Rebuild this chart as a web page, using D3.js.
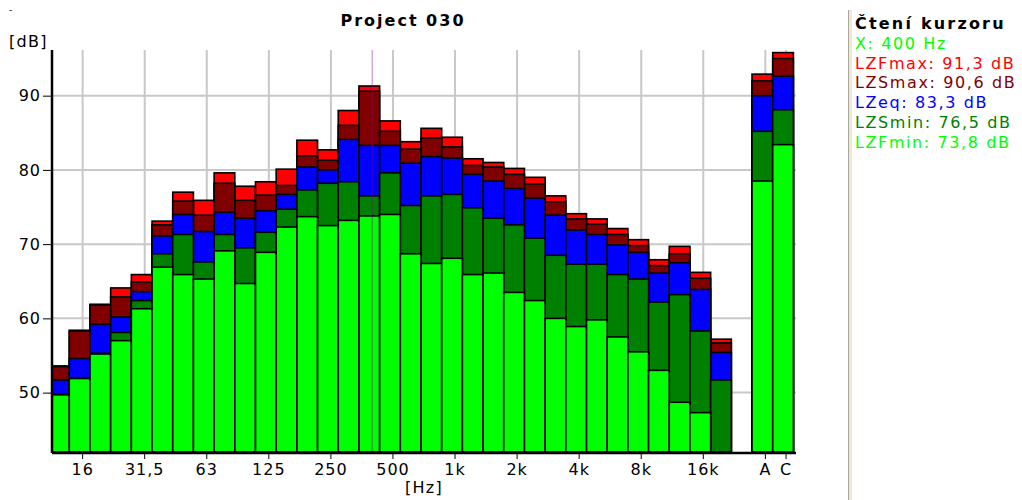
<!DOCTYPE html>
<html>
<head>
<meta charset="utf-8">
<script src="https://cdn.jsdelivr.net/npm/d3@7"></script>
<style>
  body { margin: 0; background: #fff; }
  svg text { font-family: "DejaVu Sans", Verdana, sans-serif; }
</style>
</head>
<body>
<svg id="chart" width="1022" height="500"></svg>
<script>
// band labels (1/3 octave) + overall A / C
var bands = ["12,5","16","20","25","31,5","40","50","63","80","100","125","160","200","250","315","400",
  "500","630","800","1k","1,25k","1,6k","2k","2,5k","3,15k","4k","5k","6,3k","8k","10k","12,5k","16k","20k"]
var totals = ["A", "C"]
var tickLabels = ["16","31,5","63","125","250","500","1k","2k","4k","8k","16k","A","C"]
var yTicks = [50, 60, 70, 80, 90]

// values, bands then A, C
var LZFmax = [53.6,58.4,61.9,64.1,65.9,73.1,77.0,75.9,79.6,77.8,78.4,80.1,84.0,82.7,88.0,91.3,
  86.6,83.8,85.6,84.4,81.5,81.0,80.2,79.0,76.5,74.1,73.4,72.1,70.6,67.9,69.7,66.2,57.2, 92.9,95.8]
var LZSmax = [53.5,58.3,61.8,62.9,64.9,72.6,75.8,73.9,78.2,75.9,76.6,77.9,81.9,81.3,86.0,90.6,
  85.2,82.8,84.3,83.1,80.6,80.4,79.4,78.1,75.7,73.4,72.7,71.3,69.8,67.1,68.7,65.4,56.7, 92.0,95.0]
var LZeq   = [51.7,54.6,59.2,60.2,63.6,71.1,74.0,71.7,74.3,73.5,74.5,76.7,80.4,80.0,84.1,83.3,
  83.3,80.9,81.8,81.6,79.4,78.5,77.5,76.2,73.9,71.9,71.3,69.9,68.9,66.1,67.5,63.9,55.4, 90.0,92.6]
var LZSmin = [49.8,52.0,55.3,58.1,62.4,68.7,71.3,67.6,71.3,69.5,71.6,74.7,77.3,78.2,78.4,76.5,
  79.6,75.2,76.5,76.7,74.9,73.5,72.6,70.8,68.5,67.3,67.3,65.9,65.3,62.2,63.2,58.3,51.7, 85.2,88.1]
var LZFmin = [49.7,51.9,55.2,57.0,61.3,66.9,65.9,65.3,69.1,64.7,68.9,72.3,73.7,72.5,73.2,73.8,
  74.0,68.7,67.4,68.1,65.9,66.1,63.5,62.4,60.0,58.9,59.8,57.5,55.5,53.0,48.7,47.3,41.0, 78.5,83.4]

var cursorBand = "400"
var cursorLabel = "400 Hz"

var series = [
  {name: "LZFmax", values: LZFmax, color: "#ff0000"},
  {name: "LZSmax", values: LZSmax, color: "#800000"},
  {name: "LZeq",   values: LZeq,   color: "#0000ff"},
  {name: "LZSmin", values: LZSmin, color: "#008000"},
  {name: "LZFmin", values: LZFmin, color: "#00ff00"}
]

var svg = d3.select("#chart")
var pTop = 50, pBottom = 452, pLeft = 52, pRight = 796

var cats = bands.concat(["gap"], totals)
var x = d3.scaleBand().domain(cats).range([48.6, 793.4]).padding(0)
var y = d3.scaleLinear().domain([42, 96.15]).range([pBottom, pTop])
var tickX = function(c) { return x(c) + x.bandwidth() / 2 + 3 }

// clip
svg.append("defs").append("clipPath").attr("id", "plot")
  .append("rect").attr("x", pLeft).attr("y", 0).attr("width", pRight - pLeft).attr("height", pBottom)

// grid
var grid = svg.append("g").attr("stroke", "#c8c8c8").attr("stroke-width", 2)
grid.selectAll("line.h").data(yTicks).enter().append("line")
  .attr("x1", pLeft).attr("x2", pRight)
  .attr("y1", function(d) { return y(d) }).attr("y2", function(d) { return y(d) })
grid.selectAll("line.v").data(tickLabels).enter().append("line")
  .attr("y1", pTop).attr("y2", pBottom)
  .attr("x1", tickX).attr("x2", tickX)

// bars
var rows = cats.filter(function(c) { return c != "gap" })
var bars = svg.append("g").attr("clip-path", "url(#plot)")
series.forEach(function(s) {
  bars.append("g").selectAll("rect").data(rows).enter().append("rect")
    .attr("x", function(c) { return x(c) })
    .attr("width", x.bandwidth())
    .attr("y", function(c, i) { return y(Math.max(s.values[i], 42)) })
    .attr("height", function(c, i) { return pBottom - y(Math.max(s.values[i], 42)) })
    .attr("fill", s.color)
    .attr("stroke", "#000")
    .attr("stroke-width", 1.6)
})

// cursor
svg.append("line")
  .attr("x1", tickX(cursorBand)).attr("x2", tickX(cursorBand))
  .attr("y1", pTop).attr("y2", pBottom)
  .attr("stroke", "#800080").attr("stroke-opacity", 0.35).attr("stroke-width", 1.5)

// axes
var yAxis = svg.append("g").attr("transform", "translate(" + pLeft + ",0)")
  .call(d3.axisLeft(y).tickValues(yTicks).tickSize(9).tickPadding(2).tickSizeOuter(0))
yAxis.select(".domain").attr("stroke-width", 2.5).attr("d", "M0," + pTop + "V" + (pBottom + 1))
yAxis.selectAll("text").attr("font-size", 16).attr("letter-spacing", 1).attr("fill", "#000")
  .attr("font-family", "DejaVu Sans")

var xAxis = svg.append("g").attr("transform", "translate(0," + pBottom + ")")
  .call(d3.axisBottom(x).tickValues(tickLabels).tickSize(7).tickPadding(5).tickSizeOuter(0))
xAxis.select(".domain").attr("stroke-width", 2.5).attr("d", "M" + pLeft + ",1H" + pRight)
xAxis.selectAll(".tick").attr("transform", function(c) { return "translate(" + tickX(c) + ",0)" })
xAxis.selectAll("text").attr("font-size", 16).attr("letter-spacing", 1).attr("fill", "#000")
  .attr("font-family", "DejaVu Sans")

// titles
svg.append("text").attr("x", 403).attr("y", 26).attr("text-anchor", "middle")
  .attr("font-size", 16).attr("font-weight", "bold").attr("letter-spacing", 2).text("Project 030")
svg.append("text").attr("x", 9).attr("y", 47).attr("font-size", 16).attr("letter-spacing", 1.3).text("[dB]")
svg.append("text").attr("x", 424).attr("y", 493).attr("text-anchor", "middle")
  .attr("font-size", 16).attr("letter-spacing", 1.3).text("[Hz]")
svg.append("text").attr("x", 9).attr("y", 13).attr("font-size", 9).text("-")

// cursor readout panel
svg.append("rect").attr("x", 848).attr("y", 10).attr("width", 4).attr("height", 490).attr("fill", "#ece9d8")
svg.append("line").attr("x1", 848.5).attr("x2", 848.5).attr("y1", 10).attr("y2", 500)
  .attr("stroke", "#aca899")

var ci = bands.indexOf(cursorBand)
var fmt = function(v) { return d3.format(".1f")(v).replace(".", ",") }
var lines = [{t: "X: " + cursorLabel, c: "#00ff00"}].concat(series.map(function(s) {
  return {t: s.name + ": " + fmt(s.values[ci]) + " dB", c: s.color}
}))
var panel = svg.append("g").attr("font-size", 16).attr("letter-spacing", 1.6)
panel.append("text").attr("x", 855).attr("y", 29).attr("font-weight", "bold").attr("fill", "#000")
  .attr("letter-spacing", 2.2).text("Čtení kurzoru")
panel.selectAll("text.r").data(lines).enter().append("text")
  .attr("x", 855).attr("y", function(d, i) { return 49 + i * 19.7 })
  .attr("fill", function(d) { return d.c })
  .text(function(d) { return d.t })
</script>
</body>
</html>
